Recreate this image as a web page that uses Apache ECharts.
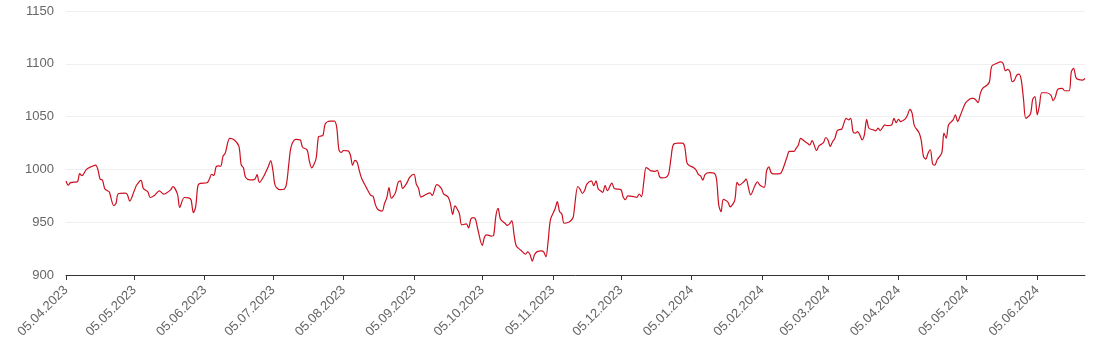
<!DOCTYPE html>
<html>
<head>
<meta charset="utf-8">
<script src="https://cdn.jsdelivr.net/npm/echarts@6/dist/echarts.min.js"></script>
<style>html,body{margin:0;padding:0;background:#fff}#c{width:1100px;height:351px}</style>
</head>
<body>
<div id="c"></div>
<script>
var startDate = '2023-04-05';
var endDate = '2024-06-26';
var yTicks = [900, 950, 1000, 1050, 1100, 1150];

var dates = [
'05.04.2023','06.04.2023','07.04.2023','10.04.2023','11.04.2023','12.04.2023','14.04.2023','16.04.2023','18.04.2023','19.04.2023',
'20.04.2023','21.04.2023','22.04.2023','23.04.2023','24.04.2023','26.04.2023','27.04.2023','28.04.2023','01.05.2023','02.05.2023',
'03.05.2023','05.05.2023','06.05.2023','08.05.2023','09.05.2023','11.05.2023','12.05.2023','14.05.2023','16.05.2023','18.05.2023',
'19.05.2023','21.05.2023','22.05.2023','24.05.2023','25.05.2023','27.05.2023','29.05.2023','30.05.2023','31.05.2023','01.06.2023',
'02.06.2023','03.06.2023','06.06.2023','07.06.2023','08.06.2023','09.06.2023','10.06.2023','11.06.2023','12.06.2023','13.06.2023',
'14.06.2023','16.06.2023','18.06.2023','20.06.2023','21.06.2023','22.06.2023','23.06.2023','25.06.2023','27.06.2023','28.06.2023',
'29.06.2023','01.07.2023','03.07.2023','04.07.2023','05.07.2023','06.07.2023','08.07.2023','10.07.2023','11.07.2023','12.07.2023',
'13.07.2023','15.07.2023','17.07.2023','18.07.2023','20.07.2023','21.07.2023','22.07.2023','23.07.2023','24.07.2023','25.07.2023',
'26.07.2023','27.07.2023','28.07.2023','30.07.2023','01.08.2023','02.08.2023','03.08.2023','04.08.2023','05.08.2023','07.08.2023',
'08.08.2023','09.08.2023','10.08.2023','11.08.2023','12.08.2023','13.08.2023','15.08.2023','17.08.2023','18.08.2023','19.08.2023',
'20.08.2023','22.08.2023','23.08.2023','24.08.2023','25.08.2023','26.08.2023','27.08.2023','28.08.2023','29.08.2023','30.08.2023',
'31.08.2023','02.09.2023','03.09.2023','05.09.2023','06.09.2023','07.09.2023','08.09.2023','09.09.2023','12.09.2023','13.09.2023',
'15.09.2023','17.09.2023','18.09.2023','20.09.2023','21.09.2023','22.09.2023','23.09.2023','24.09.2023','25.09.2023','26.09.2023',
'28.09.2023','29.09.2023','30.09.2023','01.10.2023','02.10.2023','03.10.2023','05.10.2023','06.10.2023','07.10.2023','09.10.2023',
'10.10.2023','11.10.2023','12.10.2023','13.10.2023','15.10.2023','16.10.2023','17.10.2023','18.10.2023','19.10.2023','20.10.2023',
'22.10.2023','24.10.2023','25.10.2023','26.10.2023','27.10.2023','28.10.2023','29.10.2023','31.10.2023','01.11.2023','02.11.2023',
'03.11.2023','04.11.2023','06.11.2023','07.11.2023','08.11.2023','09.11.2023','10.11.2023','12.11.2023','13.11.2023','14.11.2023',
'16.11.2023','17.11.2023','18.11.2023','19.11.2023','20.11.2023','22.11.2023','23.11.2023','24.11.2023','25.11.2023','26.11.2023',
'27.11.2023','28.11.2023','29.11.2023','01.12.2023','02.12.2023','03.12.2023','05.12.2023','06.12.2023','07.12.2023','08.12.2023',
'10.12.2023','12.12.2023','13.12.2023','14.12.2023','15.12.2023','16.12.2023','17.12.2023','18.12.2023','20.12.2023','21.12.2023',
'22.12.2023','23.12.2023','25.12.2023','26.12.2023','27.12.2023','28.12.2023','30.12.2023','01.01.2024','02.01.2024','03.01.2024',
'04.01.2024','06.01.2024','07.01.2024','08.01.2024','09.01.2024','10.01.2024','11.01.2024','13.01.2024','15.01.2024','16.01.2024',
'17.01.2024','18.01.2024','19.01.2024','21.01.2024','22.01.2024','24.01.2024','25.01.2024','26.01.2024','28.01.2024','29.01.2024',
'30.01.2024','31.01.2024','02.02.2024','03.02.2024','04.02.2024','06.02.2024','07.02.2024','08.02.2024','09.02.2024','10.02.2024',
'13.02.2024','14.02.2024','16.02.2024','17.02.2024','19.02.2024','20.02.2024','21.02.2024','22.02.2024','24.02.2024','25.02.2024',
'26.02.2024','27.02.2024','29.02.2024','01.03.2024','03.03.2024','04.03.2024','05.03.2024','06.03.2024','07.03.2024','08.03.2024',
'09.03.2024','10.03.2024','11.03.2024','13.03.2024','14.03.2024','15.03.2024','16.03.2024','17.03.2024','18.03.2024','19.03.2024',
'20.03.2024','21.03.2024','22.03.2024','23.03.2024','25.03.2024','26.03.2024','27.03.2024','28.03.2024','30.03.2024','31.03.2024',
'02.04.2024','03.04.2024','04.04.2024','05.04.2024','06.04.2024','08.04.2024','09.04.2024','10.04.2024','11.04.2024','12.04.2024',
'14.04.2024','15.04.2024','16.04.2024','17.04.2024','18.04.2024','19.04.2024','20.04.2024','21.04.2024','22.04.2024','24.04.2024',
'25.04.2024','26.04.2024','27.04.2024','29.04.2024','30.04.2024','01.05.2024','02.05.2024','04.05.2024','05.05.2024','07.05.2024',
'08.05.2024','09.05.2024','10.05.2024','11.05.2024','12.05.2024','14.05.2024','15.05.2024','16.05.2024','18.05.2024','20.05.2024',
'21.05.2024','22.05.2024','23.05.2024','24.05.2024','25.05.2024','26.05.2024','27.05.2024','28.05.2024','29.05.2024','30.05.2024',
'31.05.2024','02.06.2024','03.06.2024','04.06.2024','05.06.2024','06.06.2024','07.06.2024','09.06.2024','11.06.2024','12.06.2024',
'13.06.2024','14.06.2024','16.06.2024','17.06.2024','19.06.2024','20.06.2024','21.06.2024','22.06.2024','23.06.2024','25.06.2024',
'26.06.2024'
];

var values = [
989,985,987.5,988.4,996,994,1000,1002.5,1004,1000,
990.6,990,982,980,978.8,965.6,968,977,977.5,976,
970,979.7,985,989.7,982,978.8,973.4,975.6,979.7,976.6,
977.5,980.6,983.8,976.6,964,973.4,973,971,959,964.5,
984.6,986.7,987.3,990.7,995.4,994.4,1002.5,1003.4,1003,1012.3,
1015.4,1029.3,1027.8,1022,1004.6,1001.5,992.3,990,990.7,995,
987.7,993.8,1003,1008.3,998.5,984.6,980.9,981.5,987,1006,
1021.6,1028.4,1027.8,1021,1018.5,1007.7,1001.5,1004.6,1010.8,1030.9,
1031.5,1032.4,1043.2,1045.7,1045.7,1040,1018.5,1016,1017.9,1017.6,
1013.9,1004,1008.6,1006.8,998.5,991.4,983,975.3,974.7,966.8,
962.3,960.5,967.6,972.8,982.7,972.8,974.7,979,987.7,989.2,
982,987.7,992.3,995.4,986.1,982,973.8,974.7,977.8,975.3,
985.5,982,976.9,973.8,967.6,957.4,965.4,962.5,957.8,947.5,
948.4,944.7,953,954.4,953,943.8,928,936,938,936.9,
937.5,956,963,953,949,947,948.4,951.6,938,927.5,
923.4,919.7,921.9,919.4,913,919.4,921.9,922.8,921.9,917.2,
932.8,952.5,962.5,969.4,960,957.8,949,950,951.6,954.7,
983.8,981.3,977.2,980,986,989.1,984.5,989.1,981.4,979.8,
978.3,985,979.8,987,982,981.4,980.7,973.6,971.4,975,
974.5,973.6,976.7,974.2,987.6,1001.6,1000.6,998.8,998.1,999,
992.9,992,992.9,996.3,1010.9,1023.3,1024.8,1024.8,1021.7,1006.2,
1003.7,1001.6,999.4,995.3,993.8,989.8,995.3,996.9,996.3,990.7,
966,959.9,971.6,969.1,964.5,970.7,987.7,985.2,988.3,990.7,
983,975.9,985.2,988.3,985.2,983,998.5,1002.5,996.9,995.7,
996,999.4,1011.7,1017,1017,1020,1023.1,1029.3,1026.2,1024.7,
1023.1,1027.2,1017.9,1022.2,1025.3,1030.2,1027.8,1021.6,1026.2,1029.3,
1036.4,1037.7,1038,1048.4,1046.9,1048.4,1035.8,1034.3,1035.8,1032.7,
1028,1032.7,1047.5,1039,1037.4,1036.5,1039,1036.8,1042.1,1041.5,
1042.1,1048.4,1044.3,1047.5,1045.3,1047.8,1051.6,1056.9,1053.1,1041.2,
1034.9,1027.4,1012.3,1009.7,1015.4,1018.6,1005.3,1004.1,1009.1,1015.4,
1034.3,1029.6,1042.1,1046.9,1051.6,1045.3,1050,1061,1064.2,1067.3,
1067.3,1065.7,1063.2,1072,1076.7,1079.9,1083,1097.8,1100.3,1101.9,
1100.3,1093.4,1094.7,1092.5,1083,1084.6,1089.3,1090.3,1084.6,1065.7,
1048.4,1052.5,1066.4,1068.9,1051.6,1061,1072.6,1072.6,1070.4,1065.1,
1068.9,1075.8,1076.7,1074.5,1074.5,1092.5,1095.6,1087.1,1085.2,1084.6,
1086.1
];

function pad(n){return (n<10?'0':'')+n;}
var categories = [];
(function(){
  var d = new Date(startDate + 'T12:00:00Z');
  var e = new Date(endDate + 'T12:00:00Z');
  while (d <= e) {
    categories.push(pad(d.getUTCDate()) + '.' + pad(d.getUTCMonth()+1) + '.' + d.getUTCFullYear());
    d = new Date(d.getTime() + 86400000);
  }
})();

var seriesData = dates.map(function(dt, i){ return [dt, values[i]]; });
function isTickDay(idx, val){ return val.slice(0,3) === '05.'; }
var fontFam = 'Liberation Sans, Arial, Helvetica, sans-serif';

var chart = echarts.init(document.getElementById('c'), null, {renderer:'canvas'});
chart.setOption({
  animation: false,
  backgroundColor: '#ffffff',
  grid: {left: 66, right: 15, top: 11, bottom: 76, containLabel: false},
  xAxis: {
    type: 'category',
    data: categories,
    boundaryGap: false,
    axisLine: {show: true, lineStyle: {color: '#333333', width: 1}},
    axisTick: {show: true, interval: isTickDay, length: 5, lineStyle: {color: '#333333'}},
    axisLabel: {interval: isTickDay, rotate: 45, color: '#666666', fontSize: 13, fontFamily: fontFam, margin: 13},
    splitLine: {show: false}
  },
  yAxis: {
    type: 'value',
    min: yTicks[0],
    max: yTicks[yTicks.length-1],
    interval: 50,
    axisLine: {show: false},
    axisTick: {show: false},
    axisLabel: {color: '#666666', fontSize: 13, fontFamily: fontFam, margin: 12, formatter: function(v){ return String(v); }},
    splitLine: {show: true, lineStyle: {color: '#efefef', width: 1}}
  },
  series: [{
    type: 'line',
    data: seriesData,
    showSymbol: false,
    smooth: 0.3,
    lineStyle: {color: '#cc1020', width: 1.2},
    itemStyle: {color: '#cc1020'}
  }]
});
</script>
</body>
</html>
